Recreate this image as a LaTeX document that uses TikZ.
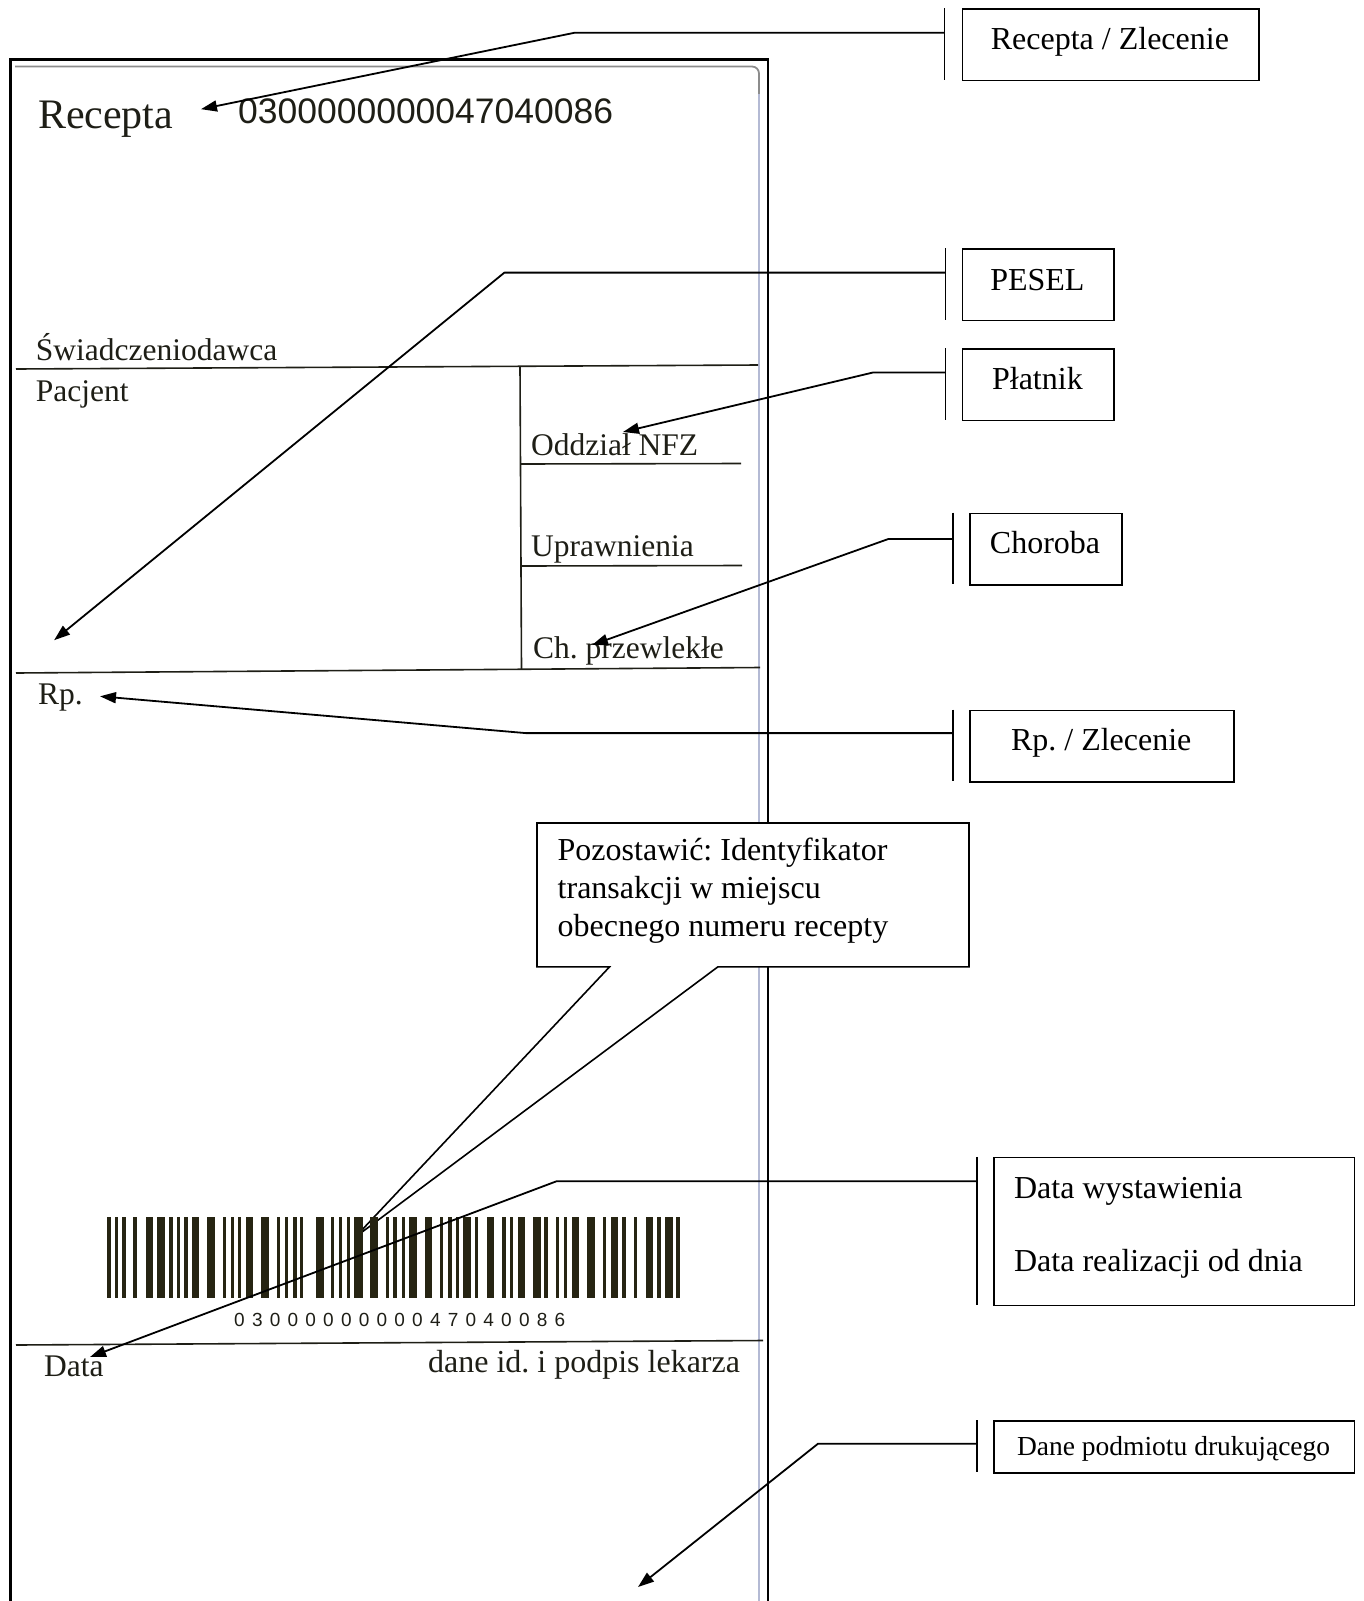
\documentclass[tikz,border=0pt]{standalone}
\usepackage{fontspec}
\setmainfont{Liberation Serif}
\newfontfamily\numfont{Liberation Sans}
\usetikzlibrary{arrows.meta}
\frenchspacing
\definecolor{formink}{RGB}{30,30,22}
\definecolor{barink}{RGB}{38,36,18}
\definecolor{scanedge}{RGB}{140,140,140}
\definecolor{scanblue}{RGB}{180,186,212}
\tikzset{
  frameline/.style={line width=2.6pt, black},
  formline/.style={line width=1.6pt, draw=formink},
  formtxt/.style={inner sep=0pt, anchor=base west, text=formink, font=\fontsize{31.5}{36}\selectfont},
  cbox/.style={draw=black, line width=1.6pt, fill=white, inner sep=0pt, anchor=north west},
  ctxt/.style={inner sep=0pt, anchor=base, font=\fontsize{32}{37}\selectfont},
  cline/.style={line width=1.8pt, black},
  carrow/.style={cline, line join=round, -{Triangle[length=16pt,width=11pt]}},
  bcdigit/.style={inner sep=0pt, anchor=base west, text=formink, font=\numfont\fontsize{19}{22}\selectfont},
}
\begin{document}
\begin{tikzpicture}[x=1pt,y=-1pt]
\useasboundingbox (0,0) rectangle (1364,1601);

% ---------- outer frame and scanned form edge ----------
\draw[frameline] (10.2,1601) -- (10.2,59.2) -- (767.8,59.2) -- (767.8,1601);
\draw[scanedge, line width=1.8pt, rounded corners=7pt] (15,66.5) -- (759,66.5) -- (759,95);
\draw[scanblue, line width=1.8pt] (759,94) -- (759,1601);

% ---------- form lines ----------
\draw[formline] (16,369) -- (758,365);
\draw[formline] (520,367) -- (521.5,669);
\draw[formline] (520,464) -- (741,463.5);
\draw[formline] (521,566) -- (742,565.5);
\draw[formline] (16,673) -- (760,667.5);
\draw[formline] (16,1345) -- (763,1340.5);

% ---------- form texts ----------
\node[formtxt, font=\fontsize{42}{48}\selectfont] (recepta) at (37.8,128) {Recepta};
\node[formtxt, font=\numfont\fontsize{35.5}{40}\selectfont] (numer) at (237.9,123) {0300000000047040086};
\node[formtxt] (swiad) at (35.7,360.4) {Świadczeniodawca};
\node[formtxt] (pacjent) at (35.7,401.5) {Pacjent};
\node[formtxt] (oddzial) at (530.9,455) {Oddział NFZ};
\node[formtxt] (upraw) at (530.9,556.5) {Uprawnienia};
\node[formtxt] (chprz) at (533,658.5) {Ch. przewlekłe};
\node[formtxt] (rp) at (37.8,704.5) {Rp.};
\node[formtxt] (data) at (43.9,1376) {Data};
\node[formtxt, anchor=base east, font=\fontsize{32}{37}\selectfont] (lekarz) at (740.2,1372) {dane id. i podpis lekarza};

% ---------- speech-bubble callout ----------
\coordinate (pzTL) at (537,823);
\coordinate (pzTR) at (969,823);
\coordinate (pzBR) at (969,966.9);
\coordinate (pzW2) at (717.8,966.9);
\coordinate (pzTip) at (355,1237.3);
\coordinate (pzW1) at (609.5,966.9);
\coordinate (pzBL) at (537,966.9);
\draw[cline, line width=1.6pt, fill=white, line join=miter]
  (pzTL) -- (pzTR) -- (pzBR) -- (pzW2) -- (pzTip) -- (pzW1) -- (pzBL) -- cycle;
\node[formtxt, text=black, font=\fontsize{32}{37}\selectfont] (pz1) at (557.5,860.7) {Pozostawić: Identyfikator};
\node[formtxt, text=black, font=\fontsize{32}{37}\selectfont] (pz2) at (557.5,898.5) {transakcji w miejscu};
\node[formtxt, text=black, font=\fontsize{32}{37}\selectfont] (pz3) at (557.5,936.3) {obecnego numeru recepty};

% ---------- barcode ----------
\foreach \a/\b in {107.3/110.7, 115/118.3, 122.3/125.7, 133.3/136.7, 145.7/153.3, 157.3/165,
  169.3/172.7, 176.7/180, 184.3/188.3, 192/199.3, 207.3/215, 222.7/226, 230.7/234, 238/241.3,
  246/253.3, 261.3/269.3, 276.7/280, 285/288.3, 292.7/296.7, 300/303.3, 316/324, 331/334.3,
  338.7/342, 346.7/350, 354.3/362.7, 370/377.7, 385.7/389, 393.3/396.7, 401.7/405, 409/416.7,
  425/432.3, 440/443.3, 447.7/451.7, 455.7/459, 463.3/471, 475/478.3, 486.7/494, 502.3/505.7,
  510/513.3, 517.7/525, 533.3/540.7, 544.3/547.7, 556/559.3, 564/567.3, 571.7/579.3, 587.3/595,
  602.7/606, 610.7/618.3, 622.3/625.7, 634/637.3, 645.7/653.3, 656.7/660.7, 665/672.7, 676/680}
  \fill[barink] (\a,1216.7) rectangle (\b,1298.3);
\foreach \d [count=\i from 0] in {0,3,0,0,0,0,0,0,0,0,0,4,7,0,4,0,0,8,6}
  \node[bcdigit] (bd\i) at (234+17.8*\i,1326) {\d};

% ---------- callout: Recepta / Zlecenie ----------
\node[cbox, minimum width=296.1pt, minimum height=71.4pt] (bRec) at (961.8,8.2) {};
\node[ctxt] (tRec) at (1109.9,49.5) {Recepta / Zlecenie};
\coordinate (aRecT) at (944.4,8.2); \coordinate (aRecB) at (944.4,79.6);
\draw[cline] (aRecT) -- (aRecB);
\coordinate (hRec) at (944.4,32.7); \coordinate (kRec) at (574.8,32.7); \coordinate (pRec) at (201,109.2);
\draw[carrow] (hRec) -- (kRec) -- (pRec);

% ---------- callout: PESEL ----------
\node[cbox, minimum width=151.1pt, minimum height=71.5pt] (bPes) at (961.8,248.1) {};
\node[ctxt] (tPes) at (1037.4,290) {PESEL};
\coordinate (aPesT) at (945.4,248.1); \coordinate (aPesB) at (945.4,319.6);
\draw[cline] (aPesT) -- (aPesB);
\coordinate (hPes) at (945.4,272.6); \coordinate (kPes) at (504.4,272.6); \coordinate (pPes) at (54.1,640.2);
\draw[carrow] (hPes) -- (kPes) -- (pPes);

% ---------- callout: Płatnik ----------
\node[cbox, minimum width=151.1pt, minimum height=71.4pt] (bPla) at (961.8,348.2) {};
\node[ctxt] (tPla) at (1037.4,389) {Płatnik};
\coordinate (aPlaT) at (945.4,348.2); \coordinate (aPlaB) at (945.4,419.6);
\draw[cline] (aPlaT) -- (aPlaB);
\coordinate (hPla) at (945.4,372.5); \coordinate (kPla) at (873,372.5); \coordinate (pPla) at (623,432);
\draw[carrow] (hPla) -- (kPla) -- (pPla);

% ---------- callout: Choroba ----------
\node[cbox, minimum width=152.2pt, minimum height=71.5pt] (bCho) at (968.9,512.5) {};
\node[ctxt] (tCho) at (1045,553.4) {Choroba};
\coordinate (aChoT) at (952.6,512.5); \coordinate (aChoB) at (952.6,584);
\draw[cline] (aChoT) -- (aChoB);
\coordinate (hCho) at (952.6,539); \coordinate (kCho) at (888.3,539); \coordinate (pCho) at (592,645);
\draw[carrow] (hCho) -- (kCho) -- (pCho);

% ---------- callout: Rp. / Zlecenie ----------
\node[cbox, minimum width=264.5pt, minimum height=71.5pt] (bRp) at (968.9,709.6) {};
\node[ctxt] (tRp) at (1101.2,750.4) {Rp. / Zlecenie};
\coordinate (aRpT) at (952.6,709.6); \coordinate (aRpB) at (952.6,781.1);
\draw[cline] (aRpT) -- (aRpB);
\coordinate (hRp) at (952.6,733.1); \coordinate (kRp) at (525.8,733.1); \coordinate (pRp) at (100,696.3);
\draw[carrow] (hRp) -- (kRp) -- (pRp);

% ---------- callout: Data ----------
\node[cbox, minimum width=360.4pt, minimum height=148pt] (bDat) at (993.4,1156.8) {};
\node[ctxt, anchor=base west] (tDat1) at (1013.9,1198) {Data wystawienia};
\node[ctxt, anchor=base west] (tDat2) at (1013.9,1271) {Data realizacji od dnia};
\coordinate (aDatT) at (977.1,1156.8); \coordinate (aDatB) at (977.1,1304.8);
\draw[cline] (aDatT) -- (aDatB);
\coordinate (hDat) at (977.1,1181.3); \coordinate (kDat) at (556.4,1181.3); \coordinate (pDat) at (90,1357);
\draw[carrow] (hDat) -- (kDat) -- (pDat);

% ---------- callout: Dane podmiotu drukujacego ----------
\node[cbox, minimum width=360.4pt, minimum height=52.1pt] (bDan) at (993.4,1420.2) {};
\node[ctxt, font=\fontsize{27.5}{32}\selectfont] (tDan) at (1173.6,1455) {Dane podmiotu drukującego};
\coordinate (aDanT) at (977.1,1420.2); \coordinate (aDanB) at (977.1,1472.3);
\draw[cline] (aDanT) -- (aDanB);
\coordinate (hDan) at (977.1,1443.7); \coordinate (kDan) at (818,1443.7); \coordinate (pDan) at (638,1587);
\draw[carrow] (hDan) -- (kDan) -- (pDan);

\end{tikzpicture}
\end{document}
